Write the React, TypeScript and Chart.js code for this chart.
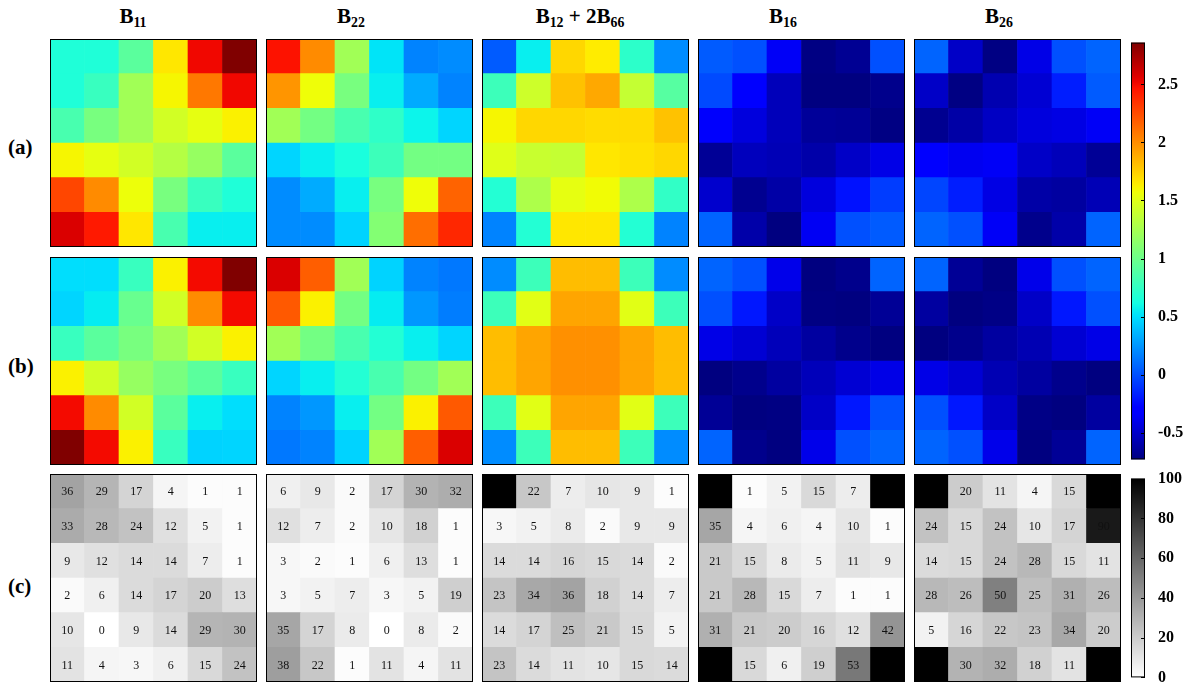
import React, { useEffect, useRef } from "react";
import { Chart, registerables } from "chart.js";

Chart.register(...registerables);

// ---------------- data ----------------
const TITLES = ["B_{11}", "B_{22}", "B_{12} + 2B_{66}", "B_{16}", "B_{26}"];
const ROW_LABELS = ["(a)", "(b)", "(c)"];
const COLUMNS = ["1", "2", "3", "4", "5", "6"];
const JET_TICKS = [-0.5, 0, 0.5, 1, 1.5, 2, 2.5];
const GRAY_TICKS = [0, 20, 40, 60, 80, 100];
const JET_MIN = -0.73;
const JET_MAX = 2.86;
const GRAY_MIN = 0;
const GRAY_MAX = 100;

// row (a) – rows listed top to bottom
const B11_A = [
  [0.66, 0.66, 0.92, 1.66, 2.51, 2.86],
  [0.66, 0.77, 1.23, 1.6, 2.08, 2.51],
  [0.84, 1.05, 1.23, 1.44, 1.53, 1.62],
  [1.6, 1.53, 1.44, 1.31, 1.18, 0.92],
  [2.27, 2.01, 1.56, 1.05, 0.77, 0.66],
  [2.58, 2.44, 1.66, 0.84, 0.56, 0.56],
];
const B22_A = [
  [2.47, 2.01, 1.23, 0.52, 0.18, 0.21],
  [1.97, 1.57, 1.05, 0.56, 0.32, 0.18],
  [1.23, 1.03, 0.84, 0.73, 0.58, 0.47],
  [0.47, 0.56, 0.64, 0.79, 1.03, 1.03],
  [0.21, 0.32, 0.56, 1.05, 1.57, 2.16],
  [0.21, 0.21, 0.46, 1.1, 2.12, 2.39],
];
const B12_2B66_A = [
  [0.04, 0.56, 1.72, 1.64, 0.72, 0.21],
  [0.79, 1.42, 1.8, 1.9, 1.38, 0.9],
  [1.6, 1.72, 1.72, 1.7, 1.7, 1.8],
  [1.5, 1.4, 1.38, 1.66, 1.68, 1.72],
  [0.68, 1.28, 1.53, 1.58, 1.28, 0.74],
  [0.18, 0.68, 1.66, 1.66, 0.68, 0.18],
];
const B16_A = [
  [0.04, 0.0, -0.36, -0.72, -0.67, 0.0],
  [-0.02, -0.28, -0.55, -0.73, -0.73, -0.69],
  [-0.34, -0.44, -0.55, -0.65, -0.66, -0.72],
  [-0.66, -0.54, -0.56, -0.6, -0.51, -0.41],
  [-0.49, -0.68, -0.61, -0.44, -0.22, -0.07],
  [0.07, -0.6, -0.73, -0.37, 0.0, 0.04],
];
const B26_A = [
  [0.07, -0.51, -0.72, -0.41, 0.0, 0.07],
  [-0.51, -0.72, -0.58, -0.47, -0.18, 0.04],
  [-0.68, -0.61, -0.52, -0.44, -0.42, -0.36],
  [-0.33, -0.38, -0.36, -0.51, -0.55, -0.66],
  [-0.04, -0.18, -0.42, -0.61, -0.63, -0.56],
  [0.07, 0.0, -0.36, -0.69, -0.6, 0.07],
];

// row (b)
const B11_B = [
  [0.5, 0.5, 0.77, 1.62, 2.5, 2.86],
  [0.47, 0.55, 0.98, 1.44, 2.01, 2.5],
  [0.77, 0.92, 1.05, 1.23, 1.44, 1.62],
  [1.62, 1.44, 1.18, 1.05, 0.92, 0.77],
  [2.5, 2.01, 1.44, 0.92, 0.56, 0.5],
  [2.86, 2.5, 1.62, 0.77, 0.46, 0.47],
];
const B22_B = [
  [2.58, 2.18, 1.23, 0.46, 0.18, 0.14],
  [2.2, 1.62, 1.03, 0.55, 0.25, 0.16],
  [1.23, 1.03, 0.84, 0.68, 0.56, 0.47],
  [0.47, 0.56, 0.68, 0.84, 1.03, 1.23],
  [0.18, 0.25, 0.56, 1.03, 1.62, 2.2],
  [0.14, 0.18, 0.46, 1.23, 2.18, 2.58],
];
const B12_2B66_B = [
  [0.21, 0.79, 1.82, 1.82, 0.79, 0.21],
  [0.79, 1.51, 1.91, 1.91, 1.51, 0.79],
  [1.82, 1.91, 1.99, 1.99, 1.91, 1.82],
  [1.82, 1.91, 1.99, 1.99, 1.91, 1.82],
  [0.79, 1.51, 1.91, 1.91, 1.51, 0.79],
  [0.21, 0.79, 1.82, 1.82, 0.79, 0.21],
];
const B16_B = [
  [0.07, 0.0, -0.4, -0.73, -0.69, 0.07],
  [0.0, -0.2, -0.51, -0.72, -0.73, -0.66],
  [-0.41, -0.47, -0.55, -0.63, -0.69, -0.73],
  [-0.73, -0.69, -0.63, -0.55, -0.47, -0.41],
  [-0.66, -0.73, -0.72, -0.51, -0.2, 0.0],
  [0.07, -0.69, -0.73, -0.4, 0.0, 0.07],
];
const B26_B = [
  [0.07, -0.66, -0.73, -0.4, 0.0, 0.07],
  [-0.63, -0.73, -0.71, -0.51, -0.2, 0.0],
  [-0.73, -0.69, -0.63, -0.57, -0.47, -0.41],
  [-0.41, -0.47, -0.57, -0.63, -0.69, -0.73],
  [0.0, -0.2, -0.51, -0.71, -0.73, -0.63],
  [0.07, 0.0, -0.4, -0.73, -0.66, 0.07],
];

// row (c) – percentages, null = black cell without label
const B11_C = [
  [36, 29, 17, 4, 1, 1],
  [33, 28, 24, 12, 5, 1],
  [9, 12, 14, 14, 7, 1],
  [2, 6, 14, 17, 20, 13],
  [10, 0, 9, 14, 29, 30],
  [11, 4, 3, 6, 15, 24],
];
const B22_C = [
  [6, 9, 2, 17, 30, 32],
  [12, 7, 2, 10, 18, 1],
  [3, 2, 1, 6, 13, 1],
  [3, 5, 7, 3, 5, 19],
  [35, 17, 8, 0, 8, 2],
  [38, 22, 1, 11, 4, 11],
];
const B12_2B66_C = [
  [null, 22, 7, 10, 9, 1],
  [3, 5, 8, 2, 9, 9],
  [14, 14, 16, 15, 14, 2],
  [23, 34, 36, 18, 14, 7],
  [14, 17, 25, 21, 15, 5],
  [23, 14, 11, 10, 15, 14],
];
const B16_C = [
  [null, 1, 5, 15, 7, null],
  [35, 4, 6, 4, 10, 1],
  [21, 15, 8, 5, 11, 9],
  [21, 28, 15, 7, 1, 1],
  [31, 21, 20, 16, 12, 42],
  [null, 15, 6, 19, 53, null],
];
const B26_C = [
  [null, 20, 11, 4, 15, null],
  [24, 15, 24, 10, 17, 90],
  [14, 15, 24, 28, 15, 11],
  [28, 26, 50, 25, 31, 26],
  [5, 16, 22, 23, 34, 20],
  [null, 30, 32, 18, 11, null],
];

const ROW_A = [B11_A, B22_A, B12_2B66_A, B16_A, B26_A];
const ROW_B = [B11_B, B22_B, B12_2B66_B, B16_B, B26_B];
const ROW_C = [B11_C, B22_C, B12_2B66_C, B16_C, B26_C];

// ---------------- layout ----------------
const PANEL_LEFT = [50, 266, 482, 698, 914];
const PANEL_TOP = [39, 257, 474];
const PANEL_W = 207;
const PANEL_H = 208;
const TITLE_X = [133, 351, 580, 783, 999];
const ROW_LABEL_Y = [148, 367, 587];
const CB_LEFT = 1131;
const CB_BAR_W = 14;
const CB_CANVAS_W = 55;
const CB_PAD = 10;
const SERIF = "'Liberation Serif', 'DejaVu Serif', serif";

// ---------------- colormaps ----------------
const JR = [[0, 0], [0.35, 0], [0.66, 1], [0.89, 1], [1, 0.5]];
const JG = [[0, 0], [0.125, 0], [0.375, 1], [0.64, 1], [0.91, 0], [1, 0]];
const JB = [[0, 0.5], [0.11, 1], [0.34, 1], [0.65, 0], [1, 0]];

function lerpPts(pts: number[][], t: number) {
  for (let i = 1; i < pts.length; i++) {
    if (t <= pts[i][0]) {
      const [x0, y0] = pts[i - 1];
      const [x1, y1] = pts[i];
      return y0 + ((y1 - y0) * (t - x0)) / (x1 - x0);
    }
  }
  return pts[pts.length - 1][1];
}
function jetT(t: number) {
  const c = Math.max(0, Math.min(1, t));
  const r = Math.round(255 * lerpPts(JR, c));
  const g = Math.round(255 * lerpPts(JG, c));
  const b = Math.round(255 * lerpPts(JB, c));
  return `rgb(${r},${g},${b})`;
}
function jet(v: number) {
  return jetT((v - JET_MIN) / (JET_MAX - JET_MIN));
}
function grayT(t: number) {
  const c = Math.max(0, Math.min(1, t));
  const g = Math.round(255 * (1 - c));
  return `rgb(${g},${g},${g})`;
}
function gray(v: number | null) {
  if (v === null || v === undefined) return "rgb(0,0,0)";
  return grayT((v - GRAY_MIN) / (GRAY_MAX - GRAY_MIN));
}

// ---------------- plugins ----------------
const framePlugin = {
  id: "frame",
  afterDraw(chart: any, _args: any, opts: any) {
    const { ctx, chartArea: a } = chart;
    ctx.save();
    ctx.strokeStyle = "#000";
    ctx.lineWidth = 1;
    ctx.strokeRect(a.left + 0.5, a.top + 0.5, a.right - a.left - 1, a.bottom - a.top - 1);
    if (opts && opts.ticks) {
      const y = chart.scales.y;
      y.ticks.forEach((t: any) => {
        const py = Math.round(y.getPixelForValue(t.value)) + 0.5;
        ctx.beginPath();
        ctx.moveTo(a.right - 4, py);
        ctx.lineTo(a.right, py);
        ctx.stroke();
      });
    }
    ctx.restore();
  },
};

const cellLabelPlugin = {
  id: "cellLabels",
  afterDatasetsDraw(chart: any, _args: any, opts: any) {
    if (!opts || !opts.show) return;
    const { ctx } = chart;
    ctx.save();
    ctx.font = `12px ${SERIF}`;
    ctx.fillStyle = "#111";
    ctx.textAlign = "center";
    ctx.textBaseline = "middle";
    chart.data.datasets.forEach((ds: any, i: number) => {
      const meta = chart.getDatasetMeta(i);
      meta.data.forEach((el: any, j: number) => {
        const v = ds.values[j];
        if (v === null || v === undefined) return;
        const p = el.getProps(["x", "y", "base"], true);
        ctx.fillText(String(v), p.x, (p.y + p.base) / 2 + 1);
      });
    });
    ctx.restore();
  },
};

// ---------------- components ----------------
function Panel({ grid, kind, left, top }: { grid: (number | null)[][]; kind: string; left: number; top: number }) {
  const ref = useRef<HTMLCanvasElement | null>(null);
  useEffect(() => {
    const rowsBottomUp = grid.slice().reverse();
    const datasets = rowsBottomUp.map((row) => ({
      data: row.map(() => 1),
      values: row,
      backgroundColor: row.map((v) => (kind === "gray" ? gray(v) : jet(v as number))),
      borderWidth: 0,
      categoryPercentage: 1,
      barPercentage: 1,
    }));
    const chart = new Chart(ref.current as HTMLCanvasElement, {
      type: "bar",
      data: { labels: COLUMNS, datasets: datasets as any },
      options: {
        animation: false,
        responsive: false,
        events: [],
        layout: { padding: 0 },
        plugins: {
          legend: { display: false },
          tooltip: { enabled: false },
          frame: {},
          cellLabels: { show: kind === "gray" },
        } as any,
        scales: {
          x: { stacked: true, display: false },
          y: { stacked: true, display: false, min: 0, max: grid.length },
        },
      },
      plugins: [framePlugin, cellLabelPlugin],
    });
    return () => chart.destroy();
  }, [grid, kind]);
  return (
    <canvas
      ref={ref}
      width={PANEL_W}
      height={PANEL_H}
      style={{ position: "absolute", left, top, width: PANEL_W, height: PANEL_H }}
    />
  );
}

function ColorBar({ kind, top, height }: { kind: string; top: number; height: number }) {
  const ref = useRef<HTMLCanvasElement | null>(null);
  useEffect(() => {
    const min = kind === "gray" ? GRAY_MIN : JET_MIN;
    const max = kind === "gray" ? GRAY_MAX : JET_MAX;
    const ticks = kind === "gray" ? GRAY_TICKS : JET_TICKS;
    const mapT = kind === "gray" ? grayT : jetT;
    const chart = new Chart(ref.current as HTMLCanvasElement, {
      type: "bar",
      data: {
        labels: ["cb"],
        datasets: [
          {
            data: [[min, max]] as any,
            borderWidth: 0,
            categoryPercentage: 1,
            barPercentage: 1,
            backgroundColor: (c: any) => {
              const ch = c.chart;
              const ys = ch.scales.y;
              if (!ch.chartArea || !ys) return "#888";
              const y0 = ys.getPixelForValue(min);
              const y1 = ys.getPixelForValue(max);
              const grad = ch.ctx.createLinearGradient(0, y0, 0, y1);
              for (let i = 0; i <= 64; i++) grad.addColorStop(i / 64, mapT(i / 64));
              return grad;
            },
          } as any,
        ],
      },
      options: {
        animation: false,
        responsive: false,
        events: [],
        layout: { padding: { top: CB_PAD, bottom: CB_PAD, left: 0, right: 0 } },
        plugins: {
          legend: { display: false },
          tooltip: { enabled: false },
          frame: { ticks: true },
        } as any,
        scales: {
          x: { display: false },
          y: {
            position: "right",
            min,
            max,
            afterBuildTicks: (s: any) => {
              s.ticks = ticks.map((v) => ({ value: v }));
            },
            afterFit: (s: any) => {
              s.width = CB_CANVAS_W - CB_BAR_W;
            },
            grid: { display: false },
            border: { display: false },
            ticks: {
              color: "#000",
              padding: 5,
              font: { family: SERIF, weight: "bold", size: 16 },
              callback: (v: any) => String(v),
            },
          },
        },
      },
      plugins: [framePlugin],
    });
    return () => chart.destroy();
  }, [kind]);
  const h = height + 2 * CB_PAD;
  return (
    <canvas
      ref={ref}
      width={CB_CANVAS_W}
      height={h}
      style={{ position: "absolute", left: CB_LEFT, top: top - CB_PAD, width: CB_CANVAS_W, height: h }}
    />
  );
}

function MathTitle({ text }: { text: string }) {
  const parts: React.ReactNode[] = [];
  const re = /_\{([^}]*)\}/g;
  let last = 0;
  let m: RegExpExecArray | null;
  let k = 0;
  while ((m = re.exec(text)) !== null) {
    if (m.index > last) parts.push(<span key={k++}>{text.slice(last, m.index)}</span>);
    parts.push(
      <span key={k++} style={{ fontSize: "0.66em", position: "relative", top: "0.28em" }}>
        {m[1]}
      </span>
    );
    last = m.index + m[0].length;
  }
  if (last < text.length) parts.push(<span key={k++}>{text.slice(last)}</span>);
  return <>{parts}</>;
}

export default function App() {
  const rows = [ROW_A, ROW_B, ROW_C];
  return (
    <div
      style={{
        position: "fixed",
        left: 0,
        top: 0,
        width: 1186,
        height: 686,
        overflow: "hidden",
        background: "#fff",
        fontFamily: SERIF,
        color: "#000",
      }}
    >
      {TITLES.map((t, i) => (
        <div
          key={"t" + i}
          style={{
            position: "absolute",
            left: TITLE_X[i],
            top: 6,
            transform: "translateX(-50%)",
            fontWeight: "bold",
            fontSize: 21,
            lineHeight: 1,
            whiteSpace: "pre",
          }}
        >
          <MathTitle text={t} />
        </div>
      ))}
      {ROW_LABELS.map((l, i) => (
        <div
          key={"r" + i}
          style={{
            position: "absolute",
            left: 8,
            top: ROW_LABEL_Y[i] - 11,
            fontWeight: "bold",
            fontSize: 21,
            lineHeight: 1,
          }}
        >
          {l}
        </div>
      ))}
      {rows.map((row, ri) =>
        row.map((grid, ci) => (
          <Panel
            key={ri + "-" + ci}
            grid={grid as any}
            kind={ri === 2 ? "gray" : "jet"}
            left={PANEL_LEFT[ci]}
            top={PANEL_TOP[ri]}
          />
        ))
      )}
      <ColorBar kind="jet" top={PANEL_TOP[0] - 1} height={PANEL_TOP[1] + PANEL_H - 1 - (PANEL_TOP[0] - 1)} />
      <ColorBar kind="gray" top={PANEL_TOP[2]} height={PANEL_H} />
    </div>
  );
}
